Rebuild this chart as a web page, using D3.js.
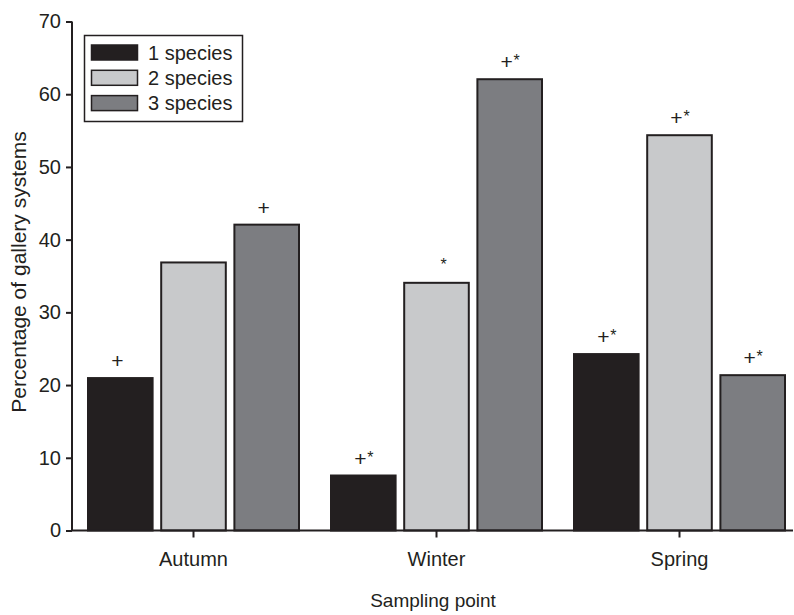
<!DOCTYPE html>
<html><head><meta charset="utf-8">
<script src="https://cdn.jsdelivr.net/npm/d3@7"></script>
<style>
html,body{margin:0;padding:0;background:#fff;}
svg{display:block;font-family:"Liberation Sans",Arial,Helvetica,sans-serif;}
</style></head><body>
<svg id="chart" width="794" height="615"></svg>
<script>
const categories = ["Autumn", "Winter", "Spring"];
const seriesNames = ["1 species", "2 species", "3 species"];
const oneSpecies = [21.1, 7.7, 24.4];
const twoSpecies = [37.0, 34.2, 54.5];
const threeSpecies = [42.2, 62.2, 21.5];
const marksOne = ["+", "+*", "+*"];
const marksTwo = ["", "*", "+*"];
const marksThree = ["+", "+*", "+*"];
const yTicks = [0, 10, 20, 30, 40, 50, 60, 70];
const colors = ["#231f20", "#c8c9cb", "#7c7d81"];

const seriesValues = [oneSpecies, twoSpecies, threeSpecies];
const seriesMarks = [marksOne, marksTwo, marksThree];
const data = [];
categories.forEach((c, i) => seriesNames.forEach((s, j) => {
  data.push({cat: c, series: s, idx: j, value: seriesValues[j][i], mark: seriesMarks[j][i]});
}));

const svg = d3.select("#chart");
const axisColor = "#231f20";
const x0 = d3.scaleBand().domain(categories).range([72, 801]).padding(0);
const x1 = d3.scaleBand().domain(seriesNames).range([15, 228]).paddingInner(0.09).paddingOuter(0);
const y = d3.scaleLinear().domain([0, 70]).range([530.5, 21.5]);

// bars
svg.append("g").selectAll("rect").data(data).join("rect")
  .attr("x", d => x0(d.cat) + x1(d.series) + 1)
  .attr("y", d => y(d.value) + 1)
  .attr("width", x1.bandwidth() - 2)
  .attr("height", d => y(0) - y(d.value) - 1)
  .attr("fill", d => colors[d.idx])
  .attr("stroke", "#231f20")
  .attr("stroke-width", 2);

// annotations
const ann = svg.append("g").attr("fill", "#231f20");
data.filter(d => d.mark).forEach(d => {
  const cx = x0(d.cat) + x1(d.series) + x1.bandwidth() / 2;
  const top = y(d.value);
  if (d.mark.includes("+")) {
    ann.append("text").attr("x", cx - 3).attr("y", top - 9)
      .attr("text-anchor", "middle").attr("font-size", 21).text("+");
  }
  if (d.mark.includes("*")) {
    ann.append("text").attr("x", cx + 7).attr("y", top - 12)
      .attr("text-anchor", "middle").attr("font-size", 16).text("*");
  }
});

// y axis
const yAxis = svg.append("g").attr("transform", "translate(72,0)")
  .call(d3.axisLeft(y).tickValues(yTicks).tickSize(6).tickPadding(5).tickFormat(d3.format("d")));
yAxis.select(".domain").attr("d", `M0,${y(70)}V${y(0)}`).attr("stroke", axisColor).attr("stroke-width", 2);
yAxis.selectAll(".tick line").attr("stroke", axisColor).attr("stroke-width", 2);
yAxis.selectAll(".tick text").attr("font-size", 20).attr("fill", axisColor)
  .attr("font-family", "Liberation Sans, Arial, sans-serif");

// x axis
const xAxis = svg.append("g").attr("transform", `translate(0,${y(0)})`)
  .call(d3.axisBottom(x0).tickSize(7).tickPadding(14));
xAxis.select(".domain").attr("d", "M71,0H793").attr("stroke", axisColor).attr("stroke-width", 2);
xAxis.selectAll(".tick line").attr("stroke", axisColor).attr("stroke-width", 2);
xAxis.selectAll(".tick text").attr("font-size", 20).attr("fill", axisColor)
  .attr("font-family", "Liberation Sans, Arial, sans-serif");

// axis titles
svg.append("text").attr("x", 433).attr("y", 607).attr("text-anchor", "middle")
  .attr("font-size", 19).attr("fill", axisColor).text("Sampling point");
svg.append("text").attr("transform", "translate(26,272) rotate(-90)").attr("text-anchor", "middle")
  .attr("font-size", 21).attr("fill", axisColor).text("Percentage of gallery systems");

// legend
const lg = svg.append("g");
lg.append("rect").attr("x", 84.5).attr("y", 35.5).attr("width", 158).attr("height", 86)
  .attr("fill", "#fff").attr("stroke", "#231f20").attr("stroke-width", 1.5);
seriesNames.forEach((s, j) => {
  lg.append("rect").attr("x", 91.5).attr("y", 45 + j * 25.3).attr("width", 46).attr("height", 15)
    .attr("fill", colors[j]).attr("stroke", "#231f20").attr("stroke-width", 1.5);
  lg.append("text").attr("x", 148).attr("y", 59.5 + j * 25.3).attr("font-size", 20)
    .attr("fill", axisColor).text(s);
});
</script>
</body></html>
